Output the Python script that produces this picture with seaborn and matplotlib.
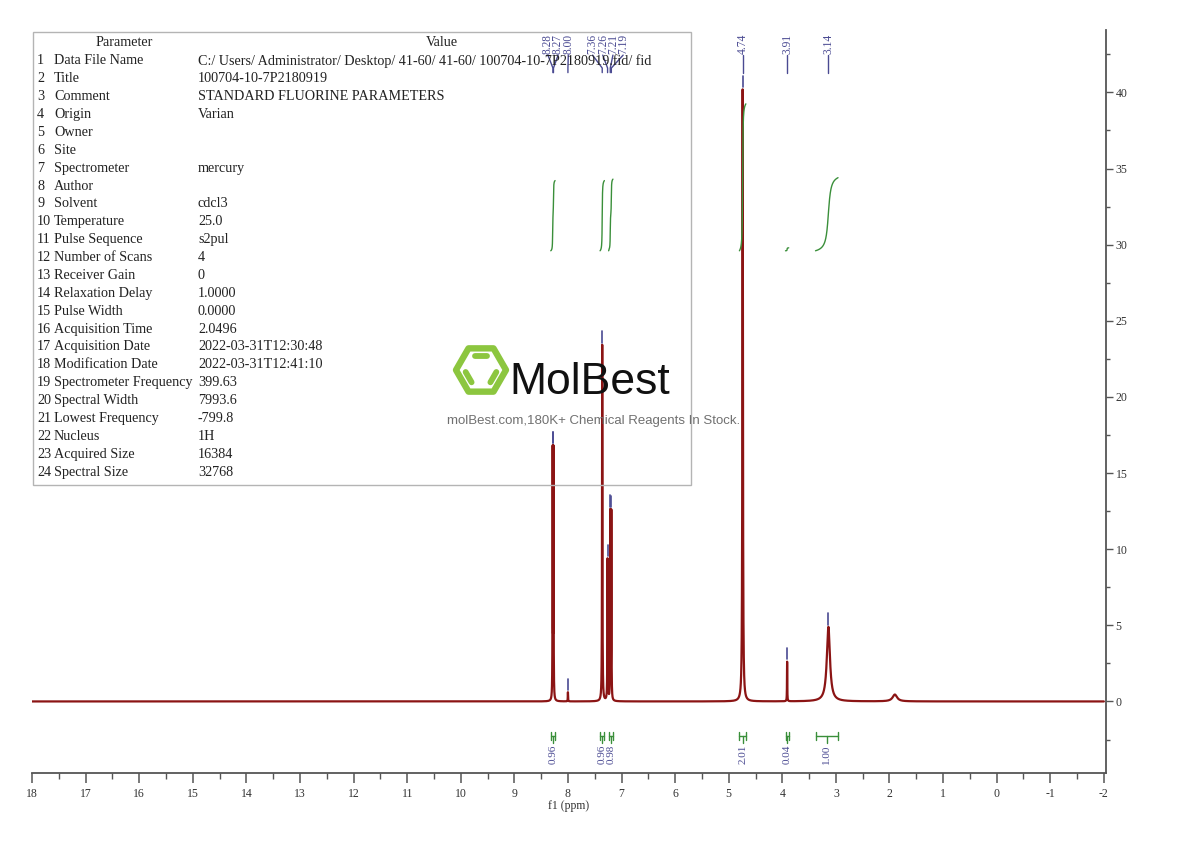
import numpy as np
import pandas as pd
import matplotlib
matplotlib.use("Agg")
import matplotlib.pyplot as plt
import seaborn as sns
from matplotlib.patches import Rectangle, Polygon
from matplotlib.ticker import MultipleLocator, FixedLocator

# ---------------- data ----------------
peak_ppm = [8.285, 8.270, 8.000, 7.360, 7.260, 7.210, 7.190, 4.740, 3.910, 3.140, 1.900]
peak_height = [16.2, 16.2, 0.6, 23.4, 9.3, 12.3, 12.3, 40.2, 2.6, 4.9, 0.45]
peak_hwhm = [0.003, 0.003, 0.003, 0.004, 0.004, 0.003, 0.003, 0.006, 0.003, 0.035, 0.05]

label_ppm = [8.28, 8.27, 8.00, 7.36, 7.26, 7.21, 7.19, 4.74, 3.91, 3.14]
label_text = ["8.28", "8.27", "8.00", "7.36", "7.26", "7.21", "7.19", "4.74", "3.91", "3.14"]

integral_start = [8.32, 7.40, 7.24, 4.80, 3.94, 3.38]
integral_end = [8.24, 7.32, 7.16, 4.68, 3.88, 2.96]
integral_value = [0.96, 0.96, 0.98, 2.01, 0.04, 1.00]
integral_text = ["0.96", "0.96", "0.98", "2.01", "0.04", "1.00"]

x_ticks = list(range(18, -3, -1))
x_ticklabels = [str(v) for v in x_ticks]
y_ticks = [0, 5, 10, 15, 20, 25, 30, 35, 40]
y_ticklabels = [str(v) for v in y_ticks]

param_names = ["Data File Name", "Title", "Comment", "Origin", "Owner", "Site",
               "Spectrometer", "Author", "Solvent", "Temperature", "Pulse Sequence",
               "Number of Scans", "Receiver Gain", "Relaxation Delay", "Pulse Width",
               "Acquisition Time", "Acquisition Date", "Modification Date",
               "Spectrometer Frequency", "Spectral Width", "Lowest Frequency",
               "Nucleus", "Acquired Size", "Spectral Size"]
param_values = ["C:/ Users/ Administrator/ Desktop/ 41-60/ 41-60/ 100704-10-7P2180919.fid/ fid",
                "100704-10-7P2180919", "STANDARD FLUORINE PARAMETERS", "Varian", "", "",
                "mercury", "", "cdcl3", "25.0", "s2pul", "4", "0", "1.0000", "0.0000",
                "2.0496", "2022-03-31T12:30:48", "2022-03-31T12:41:10", "399.63",
                "7993.6", "-799.8", "1H", "16384", "32768"]

# ---------------- build spectrum from peak list ----------------
ppm = np.linspace(18.0, -2.0, 40001)
intensity = np.zeros_like(ppm)
for c, h, w in zip(peak_ppm, peak_height, peak_hwhm):
    intensity += h / (1.0 + ((ppm - c) / w) ** 2)
spec = pd.DataFrame({"ppm": ppm, "intensity": intensity})

# ---------------- figure ----------------
sns.set_style("white")
plt.rcParams["font.family"] = ["Liberation Serif", "DejaVu Serif"]
W, H = 1190, 841
fig = plt.figure(figsize=(W / 100, H / 100), dpi=100)
fig.patch.set_facecolor("white")

def fx(px):
    return px / W

def fy(py):
    return 1 - py / H

ax = fig.add_axes([fx(32), fy(773), fx(1106) - fx(32), fy(30) - fy(773)])
ax.set_facecolor("none")

red = "#8b1414"
blue = "#4a4a92"
green = "#3a8f3a"
axis_col = "#555555"

sns.lineplot(data=spec, x="ppm", y="intensity", ax=ax, color=red, linewidth=1.6,
             estimator=None, sort=False)

ax.set_xlim(18, -2.04)
ax.set_ylim(-4.7, 44.1)

# spines / ticks
for s in ["top", "left"]:
    ax.spines[s].set_visible(False)
for s in ["right", "bottom"]:
    ax.spines[s].set_color(axis_col)
    ax.spines[s].set_linewidth(1.3)
ax.yaxis.tick_right()
ax.yaxis.set_label_position("right")
ax.xaxis.set_major_locator(FixedLocator(x_ticks))
ax.set_xticklabels(x_ticklabels)
ax.xaxis.set_minor_locator(MultipleLocator(0.5))
ax.yaxis.set_major_locator(FixedLocator(y_ticks))
ax.set_yticklabels(y_ticklabels)
ax.yaxis.set_minor_locator(MultipleLocator(2.5))
ax.tick_params(axis="x", which="major", direction="out", length=7, width=1.1,
               colors=axis_col, labelsize=8.5, labelcolor="#333333", pad=4, bottom=True)
ax.tick_params(axis="x", which="minor", direction="out", length=4, width=1.0,
               colors=axis_col, bottom=True)
ax.tick_params(axis="y", which="major", direction="out", length=5, width=1.0,
               colors=axis_col, labelsize=8.5, labelcolor="#333333", pad=2, right=True, left=False)
ax.tick_params(axis="y", which="minor", direction="out", length=3, width=1.0,
               colors=axis_col, right=True, left=False)
ax.set_xlabel("f1 (ppm)", fontsize=8.5, color="#333333", labelpad=0)
ax.set_ylabel("")

# ---------------- peak markers & labels ----------------
def local_max(p, half=0.006):
    m = (ppm <= p + half) & (ppm >= p - half)
    return intensity[m].max()

for p in label_ppm:
    top = local_max(p)
    ax.plot([p, p], [top + 0.15, top + 0.9], color=blue, lw=1.2, zorder=4)

def spread(pos, gap):
    q = list(pos)
    for _ in range(300):
        for i in range(len(q) - 1):
            d = q[i] - q[i + 1]
            if d < gap:
                s = (gap - d) / 2
                q[i] += s
                q[i + 1] -= s
    return q

lab_x = spread(label_ppm, 0.19)
for p, lx, t in zip(label_ppm, lab_x, label_text):
    ax.text(lx, 43.85, t, rotation=90, ha="center", va="top", fontsize=8.3,
            color=blue)
    ax.plot([lx, p, p], [42.45, 41.6, 41.3], color=blue, lw=1.0)

# ---------------- integrals ----------------
int_base = 29.6
int_scale = 4.8
for a, b, v, t in zip(integral_start, integral_end, integral_value, integral_text):
    m = (ppm <= a) & (ppm >= b)
    xs = ppm[m]
    cs = np.cumsum(intensity[m])
    cs = (cs - cs[0]) / (cs[-1] - cs[0])
    ax.plot(xs, int_base + cs * v * int_scale, color=green, lw=1.0, zorder=3)
    # bracket below the baseline
    c = (a + b) / 2
    ax.plot([a, b], [-2.24, -2.24], color=green, lw=1.0)
    ax.plot([a, a], [-1.98, -2.5], color=green, lw=1.0)
    ax.plot([b, b], [-1.98, -2.5], color=green, lw=1.0)
    ax.plot([c, c], [-2.24, -2.75], color=green, lw=1.0)
    ax.text(c, -2.85, t, rotation=90, ha="center", va="top", fontsize=8, color=blue)

# ---------------- parameter table ----------------
fig.patches.append(Rectangle((fx(33), fy(485)), fx(691) - fx(33), fy(32) - fy(485),
                             transform=fig.transFigure, fill=False,
                             edgecolor="#b4b4b4", lw=1.0, zorder=1))
tfs = 10.2
tcol = "#222222"
fig.text(fx(124), fy(43), "Parameter", ha="center", va="center", fontsize=tfs, color=tcol)
fig.text(fx(442), fy(43), "Value", ha="center", va="center", fontsize=tfs, color=tcol)
for i, (n, v) in enumerate(zip(param_names, param_values)):
    yy = fy(61 + i * 17.87)
    fig.text(fx(37), yy, str(i + 1), ha="left", va="center", fontsize=tfs, color=tcol)
    fig.text(fx(54), yy, n, ha="left", va="center", fontsize=tfs, color=tcol)
    if v:
        fig.text(fx(198), yy, v, ha="left", va="center", fontsize=tfs, color=tcol)

# ---------------- watermark ----------------
lax = fig.add_axes([fx(446), fy(404), fx(516) - fx(446), fy(334) - fy(404)])
lax.set_xlim(446, 516)
lax.set_ylim(404, 334)
lax.set_aspect("equal")
lax.axis("off")
lax.patch.set_alpha(0)
cx, cy, r = 481, 370, 25
angs = np.deg2rad(np.arange(0, 360, 60))
verts = np.column_stack([cx + r * np.cos(angs), cy + r * np.sin(angs)])
lg = "#8cc63f"
lax.add_patch(Polygon(verts, closed=True, fill=False, edgecolor=lg, lw=4.6, joinstyle="round"))
for i0, i1 in [(4, 5), (2, 3), (0, 1)]:
    p0, p1 = verts[i0], verts[i1]
    c0 = np.array([cx, cy])
    q0 = c0 + (p0 - c0) * 0.66
    q1 = c0 + (p1 - c0) * 0.66
    mid = (q0 + q1) / 2
    q0 = mid + (q0 - mid) * 0.72
    q1 = mid + (q1 - mid) * 0.72
    lax.plot([q0[0], q1[0]], [q0[1], q1[1]], color=lg, lw=4.2, solid_capstyle="round")

fig.text(fx(509), fy(394), "MolBest", ha="left", va="baseline", fontsize=32,
         family=["Liberation Sans", "DejaVu Sans"], color="#111111")
fig.text(fx(594), fy(421), "molBest.com,180K+ Chemical Reagents In Stock.", ha="center",
         va="center", fontsize=9.5, family=["Liberation Sans", "DejaVu Sans"], color="#707070")

fig.savefig("out.png", dpi=100, facecolor="white")
